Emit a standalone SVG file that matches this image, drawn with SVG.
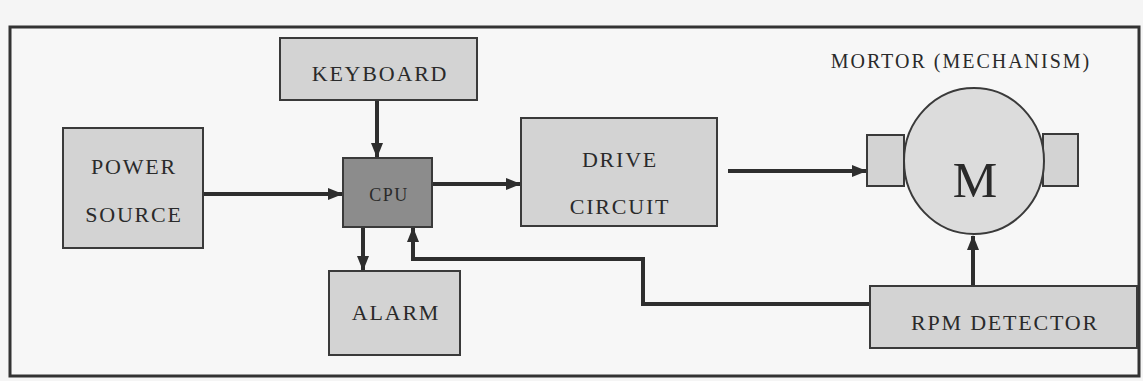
<svg xmlns="http://www.w3.org/2000/svg" width="1143" height="381" viewBox="0 0 1143 381">
<style>
.box{fill:#d3d3d3;stroke:#3a3a3a;stroke-width:2}
.cpu{fill:#8c8c8c;stroke:#3a3a3a;stroke-width:2}
.lbl{font-family:"Liberation Serif","Times New Roman",serif;font-size:22px;fill:#2a2a2a;text-anchor:middle;letter-spacing:1.8px}
.wire{fill:none;stroke:#2e2e2e;stroke-width:4}
</style>
<defs>
<marker id="ah" markerWidth="15" markerHeight="12" refX="14" refY="6" orient="auto" markerUnits="userSpaceOnUse">
<path d="M0,0 L15,6 L0,12 Z" fill="#2e2e2e"/>
</marker>
</defs>
<rect width="1143" height="381" fill="#f5f5f5"/>
<rect id="frame" x="10" y="27" width="1129" height="349" fill="#f7f7f7" stroke="#333" stroke-width="3"/>
<text class="lbl" x="961" y="68" style="font-size:20px;letter-spacing:2px">MORTOR (MECHANISM)</text>
<g id="connectors">
<line class="wire" x1="204" y1="194" x2="342" y2="194" marker-end="url(#ah)"/>
<line class="wire" x1="377" y1="101" x2="377" y2="157" marker-end="url(#ah)"/>
<line class="wire" x1="433" y1="184" x2="520" y2="184" marker-end="url(#ah)"/>
<line class="wire" x1="728" y1="171" x2="866" y2="171" marker-end="url(#ah)"/>
<line class="wire" x1="363" y1="228" x2="363" y2="270" marker-end="url(#ah)"/>
<line class="wire" x1="973" y1="286" x2="973" y2="236" marker-end="url(#ah)"/>
<polyline class="wire" points="870,304 643,304 643,259 413,259 413,228" marker-end="url(#ah)"/>
</g>
<g id="keyboard">
<rect class="box" x="280" y="38" width="197" height="62"/>
<text class="lbl" x="380" y="81">KEYBOARD</text>
</g>
<g id="power">
<rect class="box" x="63" y="128" width="140" height="120"/>
<text class="lbl" x="134" y="174">POWER</text>
<text class="lbl" x="134" y="222">SOURCE</text>
</g>
<g id="cpu">
<rect class="cpu" x="343" y="158" width="89" height="69"/>
<text class="lbl" x="389" y="201" style="font-size:18px;letter-spacing:1.5px">CPU</text>
</g>
<g id="drive">
<rect class="box" x="521" y="118" width="196" height="108"/>
<text class="lbl" x="620" y="167">DRIVE</text>
<text class="lbl" x="620" y="214">CIRCUIT</text>
</g>
<g id="alarm">
<rect class="box" x="329" y="271" width="131" height="84"/>
<text class="lbl" x="396" y="320">ALARM</text>
</g>
<g id="motor">
<rect class="box" x="867" y="135" width="37" height="51"/>
<rect class="box" x="1043" y="134" width="35" height="52"/>
<ellipse cx="974" cy="161" rx="70" ry="73" fill="#dcdcdc" stroke="#3a3a3a" stroke-width="2"/>
<text x="975" y="197" font-family="Liberation Serif, Times New Roman, serif" font-size="50" fill="#2a2a2a" text-anchor="middle">M</text>
</g>
<g id="rpm">
<rect class="box" x="870" y="286" width="267" height="62"/>
<text class="lbl" x="1005" y="330">RPM DETECTOR</text>
</g>
</svg>
